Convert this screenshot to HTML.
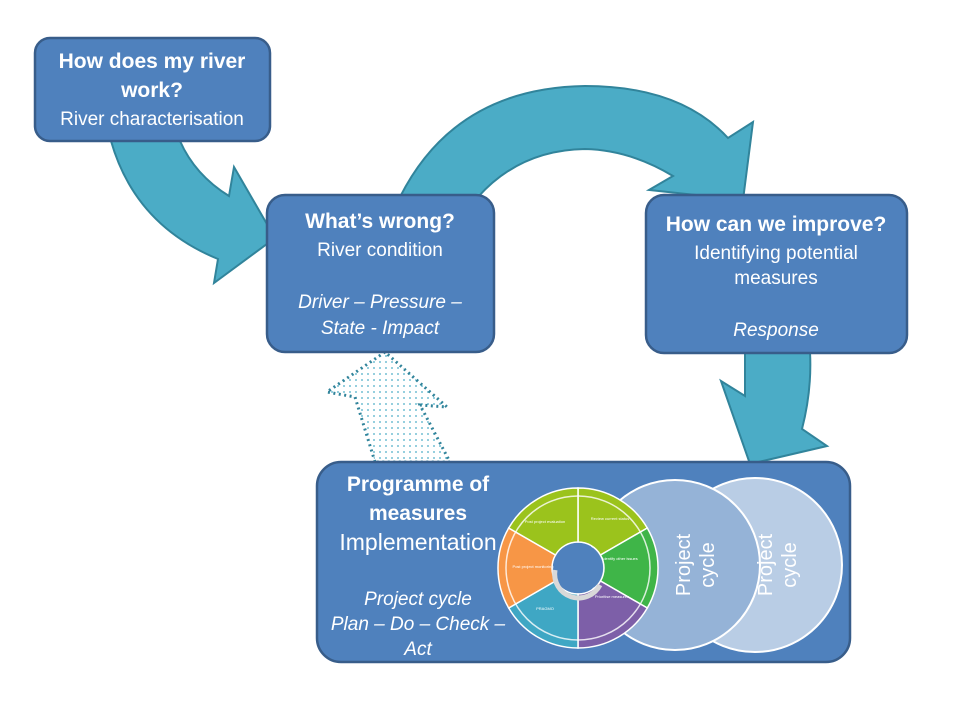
<!DOCTYPE html>
<html><head><meta charset="utf-8"><style>
html,body{margin:0;padding:0;background:#fff;width:960px;height:720px;overflow:hidden}
svg text{font-family:"Liberation Sans",sans-serif;fill:#fff}
</style></head><body>
<svg width="960" height="720" viewBox="0 0 960 720" xmlns="http://www.w3.org/2000/svg">
<defs>
<pattern id="dots" width="6" height="6" patternUnits="userSpaceOnUse"><circle cx="2" cy="2" r="0.9" fill="#4bacc6"/></pattern>
</defs>
<path d="M111,141 Q135,225 218,259 L214,283 L275,238 L234,167 L229,196 Q195,175 180,141 Z" fill="#4bacc6" stroke="#31849b" stroke-width="2"/>
<path d="M400,197 Q455,88 585,86 Q680,86 728,138 L753,122 L743,200 L649,190 L673,176 Q630,150 585,149 Q520,150 478,197 Z" fill="#4bacc6" stroke="#31849b" stroke-width="2"/>
<path d="M745,352 L745,396 L721,381 L750,464 L827,446 L802,429 Q812,390 810,352 Z" fill="#4bacc6" stroke="#31849b" stroke-width="2"/>
<path d="M375,462 L355,397 L327,392 L385,352 L447,407 L420,405 L450,462 Z" fill="url(#dots)" stroke="#31849b" stroke-width="3" stroke-dasharray="2,3.5"/>
<rect x="35" y="38" width="235" height="103" rx="15" fill="#4f81bd" stroke="#385d8a" stroke-width="2.5"/>
<rect x="267" y="195" width="227" height="157" rx="18" fill="#4f81bd" stroke="#385d8a" stroke-width="2.5"/>
<rect x="646" y="195" width="261" height="158" rx="18" fill="#4f81bd" stroke="#385d8a" stroke-width="2.5"/>
<rect x="317" y="462" width="533" height="200" rx="24" fill="#4f81bd" stroke="#385d8a" stroke-width="2.5"/>
<circle cx="755" cy="565" r="87" fill="#b9cde5" stroke="#fff" stroke-width="2"/>
<circle cx="675" cy="565" r="85" fill="#95b3d7" stroke="#fff" stroke-width="2"/>
<g font-size="20">
<text transform="translate(690,565) rotate(-90)" text-anchor="middle">Project</text>
<text transform="translate(714,565) rotate(-90)" text-anchor="middle">cycle</text>
<text transform="translate(772,565) rotate(-90)" text-anchor="middle">Project</text>
<text transform="translate(796,565) rotate(-90)" text-anchor="middle">cycle</text>
</g>
<g stroke="#fff" stroke-width="1.5">
<path d="M578,488 A80,80 0 0 1 647.3,528 L600.5,555 A26,26 0 0 0 578,542 Z" fill="#9bc31c"/>
<path d="M647.3,528 A80,80 0 0 1 647.3,608 L600.5,581 A26,26 0 0 0 600.5,555 Z" fill="#3fb548"/>
<path d="M647.3,608 A80,80 0 0 1 578,648 L578,594 A26,26 0 0 0 600.5,581 Z" fill="#7d5fa8"/>
<path d="M578,648 A80,80 0 0 1 508.7,608 L555.5,581 A26,26 0 0 0 578,594 Z" fill="#3fa7c4"/>
<path d="M508.7,608 A80,80 0 0 1 508.7,528 L555.5,555 A26,26 0 0 0 555.5,581 Z" fill="#f79646"/>
<path d="M508.7,528 A80,80 0 0 1 578,488 L578,542 A26,26 0 0 0 555.5,555 Z" fill="#9bc31c"/>
</g>
<circle cx="578" cy="568" r="72" fill="none" stroke="#fff" stroke-width="1.5" opacity="0.8"/>
<circle cx="578" cy="568" r="25" fill="#4f81bd"/>
<path d="M555,570 A24,24 0 0 0 600,585" fill="none" stroke="#d9d9d9" stroke-width="5"/>
<g font-size="4" text-anchor="middle">
<text x="545" y="523">Post project evaluation</text>
<text x="610" y="520">Review current status</text>
<text x="620" y="560">Identify other issues</text>
<text x="612" y="598">Prioritise measures</text>
<text x="545" y="610">PRAGMO</text>
<text x="533" y="568">Post project monitoring</text>
</g>
<g text-anchor="middle">
<text x="152" y="68" font-size="21" font-weight="bold">How does my river</text>
<text x="152" y="97" font-size="21" font-weight="bold">work?</text>
<text x="152" y="125" font-size="19">River characterisation</text>

<text x="380" y="228" font-size="21" font-weight="bold">What’s wrong?</text>
<text x="380" y="256" font-size="19">River condition</text>
<text x="380" y="308" font-size="19" font-style="italic">Driver – Pressure –</text>
<text x="380" y="334" font-size="19" font-style="italic">State - Impact</text>

<text x="776" y="231" font-size="21" font-weight="bold">How can we improve?</text>
<text x="776" y="259" font-size="19">Identifying potential</text>
<text x="776" y="284" font-size="19">measures</text>
<text x="776" y="336" font-size="19" font-style="italic">Response</text>

<text x="418" y="491" font-size="21" font-weight="bold">Programme of</text>
<text x="418" y="520" font-size="21" font-weight="bold">measures</text>
<text x="418" y="550" font-size="23">Implementation</text>
<text x="418" y="605" font-size="19" font-style="italic">Project cycle</text>
<text x="418" y="630" font-size="19" font-style="italic">Plan – Do – Check –</text>
<text x="418" y="655" font-size="19" font-style="italic">Act</text>
</g>
</svg>
</body></html>
